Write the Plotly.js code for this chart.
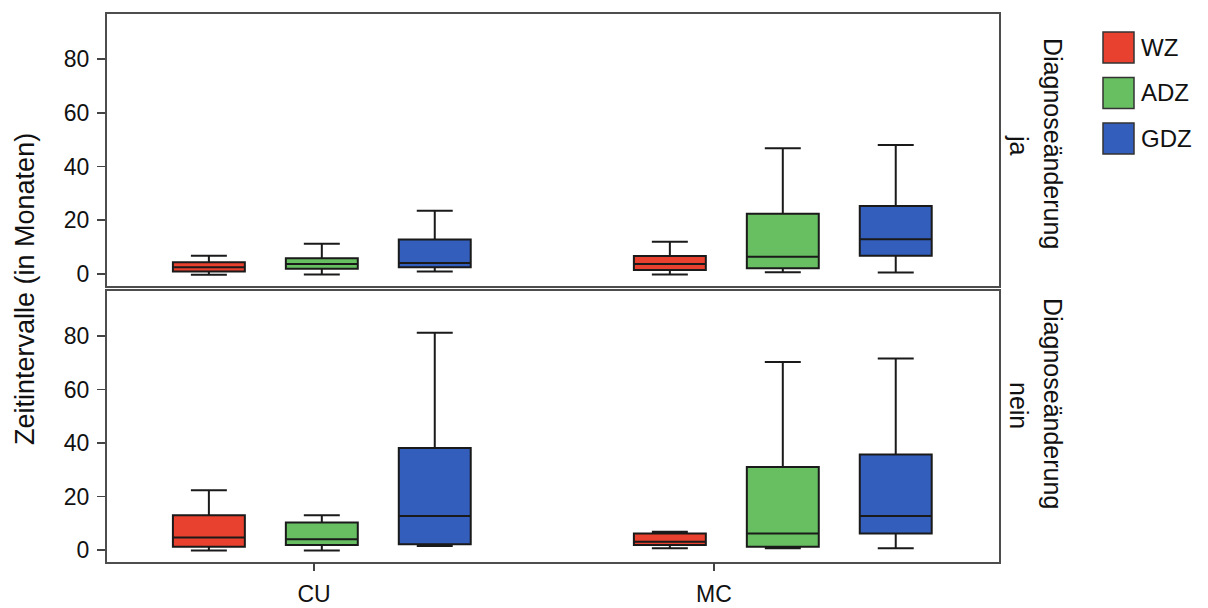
<!DOCTYPE html>
<html>
<head>
<meta charset="utf-8">
<script src="https://cdn.plot.ly/plotly-3.0.1.min.js"></script>
<style>html,body{margin:0;padding:0;background:#fff;}#chart{width:1208px;height:608px;}</style>
</head>
<body>
<div id="chart"></div>
<script>
// ---------- data ----------
const categories = ['CU', 'MC'];
const groups = ['WZ', 'ADZ', 'GDZ'];
const groupColors = ['#E8412F', '#67BF62', '#335EBC'];
const facets = ['ja', 'nein'];
const facetLabel = 'Diagnoseänderung';
const yTitle = 'Zeitintervalle (in Monaten)';

// Facet "ja"  (values per category: [CU, MC])
const ja_WZ_lower  = [-0.3, -0.2];
const ja_WZ_q1     = [0.9, 1.5];
const ja_WZ_median = [2.5, 3.7];
const ja_WZ_q3     = [4.3, 6.7];
const ja_WZ_upper  = [6.8, 12.0];

const ja_ADZ_lower  = [-0.2, 0.6];
const ja_ADZ_q1     = [1.9, 2.1];
const ja_ADZ_median = [3.7, 6.4];
const ja_ADZ_q3     = [5.8, 22.4];
const ja_ADZ_upper  = [11.2, 46.8];

const ja_GDZ_lower  = [0.9, 0.5];
const ja_GDZ_q1     = [2.5, 6.8];
const ja_GDZ_median = [4.1, 12.9];
const ja_GDZ_q3     = [12.8, 25.3];
const ja_GDZ_upper  = [23.5, 48.0];

// Facet "nein"
const nein_WZ_lower  = [-0.2, 0.6];
const nein_WZ_q1     = [1.2, 1.9];
const nein_WZ_median = [4.7, 3.1];
const nein_WZ_q3     = [13.0, 6.2];
const nein_WZ_upper  = [22.3, 6.8];

const nein_ADZ_lower  = [-0.2, 0.6];
const nein_ADZ_q1     = [1.9, 1.2];
const nein_ADZ_median = [4.0, 6.2];
const nein_ADZ_q3     = [10.3, 31.0];
const nein_ADZ_upper  = [13.0, 70.3];

const nein_GDZ_lower  = [1.5, 0.6];
const nein_GDZ_q1     = [2.1, 6.2];
const nein_GDZ_median = [12.7, 12.7];
const nein_GDZ_q3     = [38.1, 35.7];
const nein_GDZ_upper  = [81.2, 71.6];

const stats = {
  ja: {
    WZ:  [ja_WZ_lower, ja_WZ_q1, ja_WZ_median, ja_WZ_q3, ja_WZ_upper],
    ADZ: [ja_ADZ_lower, ja_ADZ_q1, ja_ADZ_median, ja_ADZ_q3, ja_ADZ_upper],
    GDZ: [ja_GDZ_lower, ja_GDZ_q1, ja_GDZ_median, ja_GDZ_q3, ja_GDZ_upper]
  },
  nein: {
    WZ:  [nein_WZ_lower, nein_WZ_q1, nein_WZ_median, nein_WZ_q3, nein_WZ_upper],
    ADZ: [nein_ADZ_lower, nein_ADZ_q1, nein_ADZ_median, nein_ADZ_q3, nein_ADZ_upper],
    GDZ: [nein_GDZ_lower, nein_GDZ_q1, nein_GDZ_median, nein_GDZ_q3, nein_GDZ_upper]
  }
};

// ---------- traces ----------
const FONT = 'Liberation Sans, Arial, Helvetica, sans-serif';
const traces = [];
facets.forEach((f, fi) => {
  groups.forEach((g, gi) => {
    const s = stats[f][g];
    traces.push({
      type: 'box',
      name: g,
      offsetgroup: g,
      x: categories,
      lowerfence: s[0], q1: s[1], median: s[2], q3: s[3], upperfence: s[4],
      xaxis: fi === 0 ? 'x2' : 'x',
      yaxis: fi === 0 ? 'y2' : 'y',
      fillcolor: groupColors[gi],
      line: {color: '#1a1a1a', width: 2},
      whiskerwidth: 0.5,
      boxpoints: false,
      showlegend: false,
      hoverinfo: 'skip'
    });
  });
});
// category tick axis at the bottom (no marks, only carries the category labels)
traces.push({
  type: 'scatter', mode: 'markers', x: categories, y: categories.map(() => null),
  xaxis: 'x3', yaxis: 'y', showlegend: false, hoverinfo: 'skip', marker: {opacity: 0}
});

// ---------- layout ----------
const W = 1208, H = 608;
const L = 107, R = 999, T = 14, B = 562;
const pw = R - L, ph = B - T;
const px2x = p => (p - L) / pw;
const py2y = p => (B - p) / ph;

const frame = {showline: true, mirror: true, linecolor: '#4d4d4d', linewidth: 2, showgrid: false, zeroline: false};
const yCommon = Object.assign({}, frame, {
  range: [-4.5, 96.8], tick0: 0, dtick: 20, ticks: 'outside', ticklen: 8, tickwidth: 1.5,
  tickcolor: '#444', tickfont: {family: FONT, size: 23, color: '#111'}, ticklabelstandoff: 3
});
const xCommon = Object.assign({}, frame, {
  type: 'category', range: [-0.466, 1.469], ticks: '', showticklabels: false
});

const annotations = [];
const shapes = [];
// y axis title
annotations.push({
  text: yTitle, xref: 'paper', yref: 'paper', x: px2x(25), y: py2y(289),
  xanchor: 'center', yanchor: 'middle', textangle: -90, showarrow: false,
  font: {family: FONT, size: 27, color: '#111'}
});
// facet strips
const stripY = [143, 403];
facets.forEach((f, fi) => {
  annotations.push({
    text: facetLabel, xref: 'paper', yref: 'paper', x: px2x(1053), y: py2y(stripY[fi]),
    xanchor: 'center', yanchor: 'middle', textangle: 90, showarrow: false,
    font: {family: FONT, size: 25, color: '#111'}
  });
  annotations.push({
    text: f, xref: 'paper', yref: 'paper', x: px2x(1019), y: py2y(stripY[fi] + 2),
    xanchor: 'center', yanchor: 'middle', textangle: 90, showarrow: false,
    font: {family: FONT, size: 25, color: '#111'}
  });
});
// legend (drawn as keys + labels)
groups.forEach((g, gi) => {
  const top = 32 + gi * 45.5;
  shapes.push({
    type: 'rect', xref: 'paper', yref: 'paper',
    x0: px2x(1103), x1: px2x(1134), y0: py2y(top + 31), y1: py2y(top),
    fillcolor: groupColors[gi], line: {color: '#333', width: 1.5}
  });
  annotations.push({
    text: g, xref: 'paper', yref: 'paper', x: px2x(1139), y: py2y(top + 15.5),
    xanchor: 'left', yanchor: 'middle', showarrow: false,
    font: {family: FONT, size: 24, color: '#111'}
  });
});

const layout = {
  width: W, height: H,
  margin: {l: L, r: W - R, t: T, b: H - B, pad: 0},
  paper_bgcolor: '#fff', plot_bgcolor: '#fff',
  boxmode: 'group', boxgap: 0.265, boxgroupgap: 0.363,
  showlegend: false,
  font: {family: FONT, size: 22, color: '#111'},
  xaxis: Object.assign({}, xCommon, {domain: [0, 1], anchor: 'y'}),
  xaxis2: Object.assign({}, xCommon, {domain: [0, 1], anchor: 'y2'}),
  xaxis3: {
    overlaying: 'x', anchor: 'y', type: 'category', range: [-0.5175, 1.7125],
    ticks: 'outside', ticklen: 8, tickwidth: 1.5, tickcolor: '#444',
    showline: false, showgrid: false, zeroline: false,
    tickfont: {family: FONT, size: 23, color: '#111'}, ticklabelstandoff: 3
  },
  yaxis: Object.assign({}, yCommon, {domain: [0, py2y(291)], anchor: 'x'}),
  yaxis2: Object.assign({}, yCommon, {domain: [py2y(286), 1], anchor: 'x2'}),
  annotations: annotations,
  shapes: shapes
};

Plotly.newPlot('chart', traces, layout, {staticPlot: true, displayModeBar: false});
</script>
</body>
</html>
